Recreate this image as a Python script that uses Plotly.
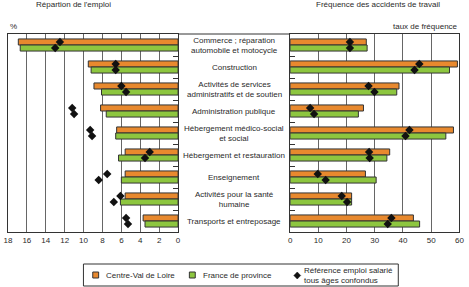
import plotly.graph_objects as go

W, H = 469, 287

categories = [
    "Commerce ; réparation<br>automobile et motocycle",
    "Construction",
    "Activités de services<br>administratifs et de soutien",
    "Administration publique",
    "Hébergement médico-social<br>et social",
    "Hébergement et restauration",
    "Enseignement",
    "Activités pour la santé<br>humaine",
    "Transports et entreposage",
]
emploi_cvl = [16.9, 9.5, 8.9, 8.2, 6.5, 5.6, 5.6, 5.6, 3.7]
emploi_fp = [16.7, 9.2, 8.1, 7.6, 6.6, 6.3, 6.0, 6.1, 3.5]
ref_emploi_cvl = [12.5, 6.6, 6.0, 11.2, 9.3, 3.0, 7.5, 6.1, 5.5]
ref_emploi_fp = [13.0, 6.6, 5.5, 11.0, 9.1, 3.5, 8.4, 6.8, 5.3]
freq_cvl = [27.0, 59.3, 38.6, 26.0, 57.9, 35.3, 26.7, 21.8, 43.7]
freq_fp = [27.3, 56.5, 37.8, 24.2, 55.2, 34.3, 30.5, 21.8, 45.9]
ref_freq_cvl = [21.2, 45.8, 27.8, 7.1, 42.3, 28.0, 9.8, 18.3, 35.9]
ref_freq_fp = [21.2, 44.1, 29.9, 8.5, 40.9, 28.2, 12.6, 20.2, 34.6]

left_ticks = [0, 2, 4, 6, 8, 10, 12, 14, 16, 18]
right_ticks = [0, 10, 20, 30, 40, 50, 60]
legend_labels = ["Centre-Val de Loire", "France de province",
                 "Référence emploi salarié<br>tous âges confondus"]

ORANGE = "#E8892E"
GREEN = "#8DC63F"
EDGE = "#333333"
TXT = "#2a2a2a"
FONT = "Liberation Sans, Arial, sans-serif"
FS = 8.0

idx = list(range(len(categories)))


def px(x):
    return x / W


def py(y):
    return 1 - y / H


fig = go.Figure()

for xs, col, og, xa, ya in [
    (emploi_cvl, ORANGE, "o", "x", "y"),
    (emploi_fp, GREEN, "g", "x", "y"),
    (freq_cvl, ORANGE, "o", "x2", "y2"),
    (freq_fp, GREEN, "g", "x2", "y2"),
]:
    fig.add_trace(go.Bar(
        x=xs, y=idx, orientation="h", offsetgroup=og,
        marker=dict(color=col, line=dict(color=EDGE, width=1)),
        xaxis=xa, yaxis=ya, showlegend=False, hoverinfo="skip"))

for xs, og, xa, ya in [
    (ref_emploi_cvl, "o", "x", "y"),
    (ref_emploi_fp, "g", "x", "y"),
    (ref_freq_cvl, "o", "x2", "y2"),
    (ref_freq_fp, "g", "x2", "y2"),
]:
    fig.add_trace(go.Scatter(
        x=xs, y=idx, orientation="h", offsetgroup=og, mode="markers",
        marker=dict(symbol="diamond", size=6.5, color="#111111"),
        xaxis=xa, yaxis=ya, showlegend=False, hoverinfo="skip"))

ytop, ybot = py(34), py(232)
xl0, xl1 = px(4), px(177.5)
xr0, xr1 = px(291.7), px(464.3)

axis_common = dict(showline=True, linecolor=EDGE, linewidth=1, mirror=True,
                   showgrid=True, gridcolor="#666666", gridwidth=1,
                   zeroline=False, ticks="",
                   tickfont=dict(family=FONT, size=8.0, color=TXT))
yaxis_common = dict(range=[len(categories) - 0.5, -0.5],
                    tickvals=[i + 0.5 for i in idx[:-1]],
                    showticklabels=False, ticks="inside", ticklen=5,
                    tickcolor=EDGE, showgrid=False, zeroline=False,
                    showline=True, linecolor=EDGE, mirror=True,
                    domain=[ybot, ytop])

fig.update_layout(
    width=W, height=H, margin=dict(l=0, r=0, t=0, b=0),
    paper_bgcolor="white", plot_bgcolor="white",
    barmode="group", bargap=0.45, scattermode="group", scattergap=0.45,
    showlegend=False,
    font=dict(family=FONT, size=FS, color=TXT),
    xaxis=dict(domain=[xl0, xl1], range=[18, 0], tickvals=left_ticks,
               anchor="y", **axis_common),
    yaxis=dict(anchor="x", side="right", **yaxis_common),
    xaxis2=dict(domain=[xr0, xr1], range=[0, 60], tickvals=right_ticks,
                anchor="y2", **axis_common),
    yaxis2=dict(anchor="x2", side="left", **yaxis_common),
)

ann = []
for i, c in enumerate(categories):
    ann.append(dict(text=c, x=px(234.5), xref="paper", y=i, yref="y",
                    xanchor="center", yanchor="middle", showarrow=False,
                    font=dict(size=FS, color=TXT)))
ann += [
    dict(text="Répartion de l'emploi", x=px(71.3), y=py(5), xanchor="center"),
    dict(text="Fréquence des accidents de travail", x=px(381), y=py(5), xanchor="center"),
    dict(text="%", x=px(4), y=py(26.5), xanchor="left"),
    dict(text="taux de fréquence", x=px(464.5), y=py(26.5), xanchor="right"),
    dict(text=legend_labels[0], x=px(101.5), y=py(275), xanchor="left"),
    dict(text=legend_labels[1], x=px(200.5), y=py(275), xanchor="left"),
    dict(text=legend_labels[2], x=px(303.5), y=py(275.5), xanchor="left", align="left"),
]
for a in ann[len(categories):]:
    a.update(xref="paper", yref="paper", yanchor="middle", showarrow=False,
             font=dict(size=FS, color=TXT))
fig.update_layout(annotations=ann)

shapes = [
    # top line across the central label area
    dict(type="line", xref="paper", yref="paper", x0=xl1, x1=xr0, y0=ytop, y1=ytop,
         line=dict(color=EDGE, width=1)),
    # legend frame
    dict(type="rect", xref="paper", yref="paper", x0=px(81), x1=px(402),
         y0=py(286), y1=py(264), line=dict(color=EDGE, width=1)),
    dict(type="rect", xref="paper", yref="paper", x0=px(90.5), x1=px(96.5),
         y0=py(278), y1=py(272), fillcolor=ORANGE, line=dict(color=EDGE, width=1)),
    dict(type="rect", xref="paper", yref="paper", x0=px(189), x1=px(195),
         y0=py(278), y1=py(272), fillcolor=GREEN, line=dict(color=EDGE, width=1)),
    dict(type="path", xref="paper", yref="paper",
         path=f"M {px(299)} {py(272)} L {px(302.5)} {py(275.5)} L {px(299)} {py(279)} L {px(295.5)} {py(275.5)} Z",
         fillcolor="#111111", line=dict(color="#111111", width=0.5)),
]
fig.update_layout(shapes=shapes)

fig.write_html("out.html")
